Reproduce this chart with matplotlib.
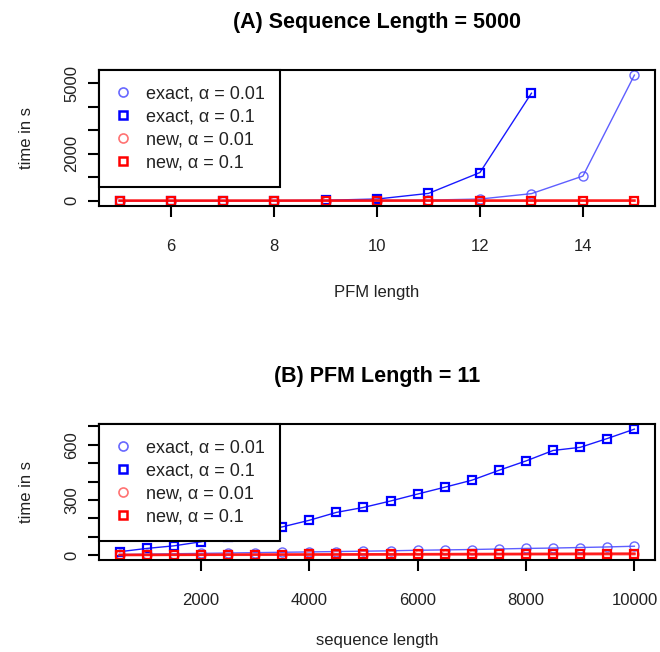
import matplotlib
matplotlib.use("Agg")
import matplotlib.pyplot as plt
from matplotlib.lines import Line2D

plt.rcParams['font.family'] = ['Liberation Sans', 'DejaVu Sans']

# (A) sequence length 5000, varying PFM length
pfm_len = [5, 6, 7, 8, 9, 10, 11, 12, 13, 14, 15]
exact_001_a = [0.05, 0.1, 0.3, 1, 3, 10, 25, 70, 300, 1050, 5350]
exact_01_a = [0.1, 0.5, 1.5, 5, 20, 70, 310, 1200, 4580]
new_001_a = [1, 1, 1, 1, 1, 2, 2, 2, 2, 3, 3]
new_01_a = [1, 1, 1, 1, 2, 2, 2, 3, 3, 3, 4]

# (B) PFM length 11, varying sequence length
seq_len = list(range(500, 10001, 500))
exact_001_b = [3, 5, 7, 9, 11, 13, 15, 17, 19, 21, 23, 26, 28, 30, 33, 36, 38, 41, 44, 48]
exact_01_b = [18, 36, 50, 72, 99, 130, 153, 189, 232, 259, 294, 332, 369, 407, 461,
              512, 569, 586, 634, 685]
new_001_b = [0.3, 0.5, 0.7, 0.9, 1.1, 1.3, 1.5, 1.7, 1.9, 2.1, 2.3, 2.5, 2.7, 2.9, 3.1,
             3.3, 3.5, 3.7, 3.9, 4.1]
new_01_b = [0.5, 0.9, 1.3, 1.7, 2.1, 2.5, 2.9, 3.3, 3.7, 4.1, 4.5, 4.9, 5.3, 5.7, 6.1,
            6.5, 6.9, 7.3, 7.7, 8.1]

labels = ['exact, α = 0.01', 'exact, α = 0.1', 'new, α = 0.01', 'new, α = 0.1']

light_blue = (0.3, 0.3, 1.0, 0.85)
blue = (0.0, 0.0, 1.0)
light_red = (1.0, 0.35, 0.35, 0.85)
red = (1.0, 0.0, 0.0)

fig = plt.figure(figsize=(6.6, 6.52), dpi=100)
ax1 = fig.add_axes([0.15, 0.6845, 0.8424, 0.208])
ax2 = fig.add_axes([0.15, 0.1411, 0.8424, 0.2086])


def draw(ax, x, series):
    styles = [('o', light_blue, 1.0), ('s', blue, 1.0),
              ('o', light_red, 1.8), ('s', red, 1.8)]
    for (xs, ys), (m, c, lw) in zip(series, styles):
        ax.plot(xs, ys, color=c, lw=lw, alpha=0.8 if lw > 1 else 0.9)
        ax.plot(xs, ys, m, mfc='none', mec=c, mew=1.6 if m == 's' else 1.0,
                ms=6.5 if m == 'o' else 6, ls='none')
    handles = [Line2D([], [], marker=m, mfc='none', mec=c, mew=1.8 if m == 's' else 1.2,
                      ms=6.5 if m == 'o' else 6, ls='none')
               for m, c, _ in styles]
    leg = ax.legend(handles, labels, loc='upper left', bbox_to_anchor=(0, 1),
                    borderaxespad=0, fancybox=False, framealpha=1,
                    edgecolor='black', fontsize=13, handlelength=1.0,
                    handletextpad=0.75, labelspacing=0.33, borderpad=0.85,
                    labelcolor='#222222')
    leg.get_frame().set_linewidth(1.5)
    for s in ax.spines.values():
        s.set_linewidth(1.5)
    ax.tick_params(direction='out', length=8, width=1.5, labelsize=12,
                   colors='black', labelcolor='#222222')
    ax.tick_params(axis='x', pad=16)
    ax.tick_params(axis='y', pad=6)


draw(ax1, pfm_len, [(pfm_len, exact_001_a), (pfm_len[:len(exact_01_a)], exact_01_a),
                    (pfm_len, new_001_a), (pfm_len, new_01_a)])
ax1.set_xlim(4.6, 15.4)
ax1.set_ylim(-214, 5564)
ax1.set_xticks([6, 8, 10, 12, 14])
ax1.set_yticks([0, 1000, 2000, 3000, 4000, 5000])
ax1.set_yticklabels(['0', '', '2000', '', '', '5000'], rotation=90, va='center')
ax1.set_xlabel('PFM length', fontsize=12, labelpad=22, color='#222222')
ax1.set_ylabel('time in s', fontsize=12, labelpad=22, color='#222222')
ax1.set_title('(A) Sequence Length = 5000', fontsize=15.5, fontweight='bold', pad=30)

draw(ax2, seq_len, [(seq_len, exact_001_b), (seq_len, exact_01_b),
                    (seq_len, new_001_b), (seq_len, new_01_b)])
ax2.set_xlim(120, 10380)
ax2.set_ylim(-27, 713)
ax2.set_xticks([2000, 4000, 6000, 8000, 10000])
ax2.set_yticks(range(0, 701, 100))
ax2.set_yticklabels(['0', '', '', '300', '', '', '600', ''], rotation=90, va='center')
ax2.set_xlabel('sequence length', fontsize=12, labelpad=18, color='#222222')
ax2.set_ylabel('time in s', fontsize=12, labelpad=22, color='#222222')
ax2.set_title('(B) PFM Length = 11', fontsize=15.5, fontweight='bold', pad=30)

fig.savefig('out.png', dpi=100)
